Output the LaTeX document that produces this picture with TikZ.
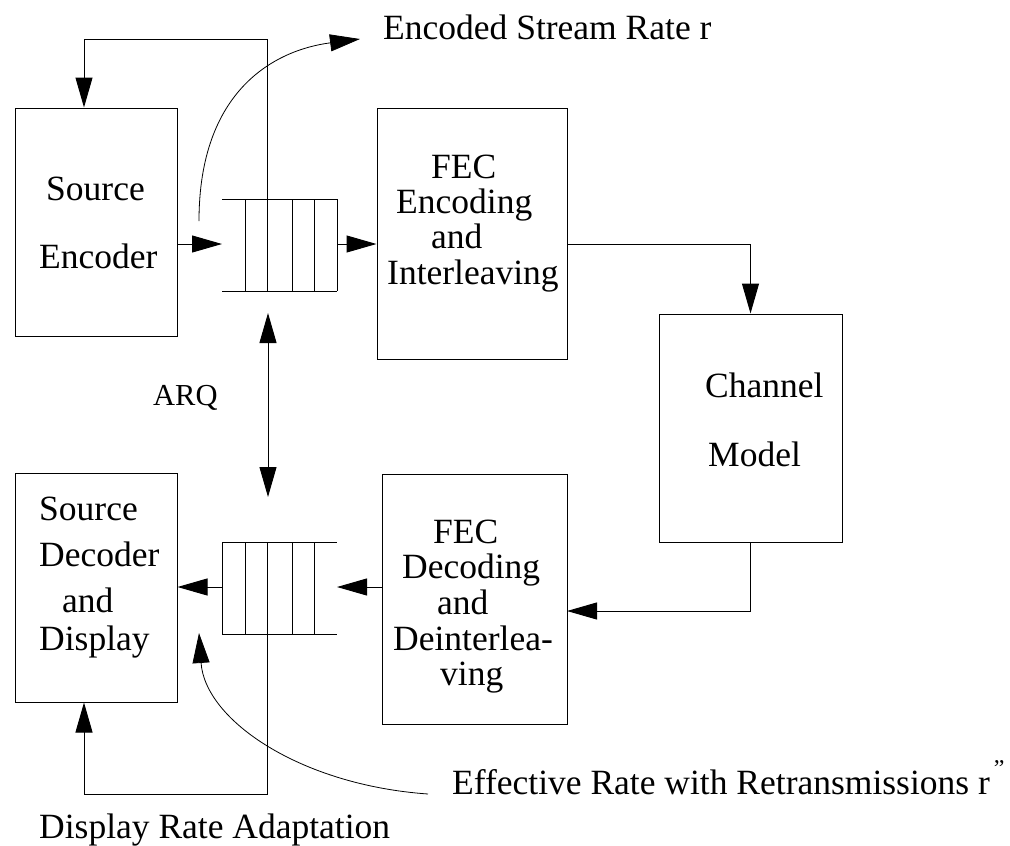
\documentclass[tikz,border=0pt]{standalone}
\usepackage{fontspec}
\setmainfont{Liberation Serif}
\usetikzlibrary{arrows.meta}
\tikzset{
  blk/.style={draw, line width=1pt, rectangle, inner sep=0pt},
  lbl/.style={anchor=base west, inner sep=0pt, font=\fontsize{35.5}{35.5}\selectfont},
  smalllbl/.style={anchor=base west, inner sep=0pt, font=\fontsize{30.5}{30.5}\selectfont},
  arr/.style={line width=1pt, -{Triangle[length=30pt,width=17pt]}},
  dblarr/.style={line width=1pt, {Triangle[length=30pt,width=17pt]}-{Triangle[length=30pt,width=17pt]}},
  thin/.style={line width=1pt},
  curvearr/.style={line width=0.8pt, -{Triangle[length=30pt,width=17pt]}}
}
\begin{document}
\begin{tikzpicture}[x=1pt,y=-1pt]
\useasboundingbox (0,0) rectangle (1010,846);

% boxes
\node[blk, minimum width=162pt, minimum height=228pt] (enc) at (96,222) {};
\node[blk, minimum width=190pt, minimum height=251pt] (fecenc) at (472,233.5) {};
\node[blk, minimum width=183pt, minimum height=228pt] (chan) at (750.5,428) {};
\node[blk, minimum width=185pt, minimum height=250pt] (fecdec) at (474.5,599) {};
\node[blk, minimum width=162pt, minimum height=229pt] (dec) at (96,587.5) {};

% box texts
\node[lbl] (t1) at (46,200) {Source};
\node[lbl] (t2) at (39,268) {Encoder};
\node[lbl] (t3) at (431,178) {FEC};
\node[lbl] (t4) at (396,213) {Encoding};
\node[lbl] (t5) at (431,248) {and};
\node[lbl] (t6) at (387,284) {Interleaving};
\node[lbl] (t7) at (705,397) {Channel};
\node[lbl] (t8) at (708,466) {Model};
\node[lbl] (t9) at (433,543) {FEC};
\node[lbl] (t10) at (402,578) {Decoding};
\node[lbl] (t11) at (437,614) {and};
\node[lbl] (t12) at (393,650) {Deinterlea-};
\node[lbl] (t13) at (440,685) {ving};
\node[lbl] (t14) at (39,520) {Source};
\node[lbl] (t15) at (39,566) {Decoder};
\node[lbl] (t16) at (62,612) {and};
\node[lbl] (t17) at (39,650) {Display};

% other labels
\node[lbl] (encrate) at (383,39) {Encoded Stream Rate r};
\node[smalllbl] (arq) at (153,405) {ARQ};
\node[lbl] (effrate) at (452,794) {Effective Rate with Retransmissions r\hspace{4pt}\raisebox{18pt}{\fontsize{24}{24}\selectfont ”}};
\node[lbl] (disprate) at (39,838) {Display Rate Adaptation};

% buffers (coordinates)
\coordinate (b1L) at (222,244);
\coordinate (b1R) at (337,244);
\coordinate (b1m) at (267,199);
\coordinate (b2L) at (222,587);
\coordinate (b2R) at (337,587);
\coordinate (b2m) at (267,634);

% top buffer: open on the left
\draw[thin] (222,199) -- (337,199);
\draw[thin] (222,291) -- (337,291);
\foreach \xx in {245,267,292,314,337} \draw[thin] (\xx,199) -- (\xx,291);
% bottom buffer: open on the right
\draw[thin] (222,542) -- (337,542);
\draw[thin] (222,634) -- (337,634);
\foreach \xx in {222,245,267,292,314} \draw[thin] (\xx,542) -- (\xx,634);

% connectors
\draw[arr] (enc.east |- b1L) -- (b1L);
\draw[arr] (b1R) -- (fecenc.west |- b1R);
\draw[arr] (fecenc.east |- b1R) -| (chan.north);
\coordinate (fdin) at (567,611);
\draw[arr] (chan.south) |- (fdin);
\draw[arr] (fecdec.west |- b2R) -- (b2R);
\draw[arr] (b2L) -- (dec.east |- b2L);

% feedback loops
\coordinate (fbA) at (84,39);
\draw[arr] (b1m) |- (fbA) -- (enc.north -| fbA);
\coordinate (fbB) at (84,794);
\draw[arr] (b2m) |- (fbB) -- (dec.south -| fbB);

% ARQ
\coordinate (arqT) at (268,313);
\coordinate (arqB) at (268,497);
\draw[dblarr] (arqT) -- (arqB);

% curved arrows
\coordinate (c1s) at (199,221);
\coordinate (c1e) at (360,39);
\draw[curvearr] (c1s) .. controls (199,90) and (275,50) .. (c1e);
\coordinate (c2s) at (428,794);
\coordinate (c2e) at (199,633);
\draw[curvearr] (c2s) .. controls (300,785) and (205,720) .. (c2e);
\end{tikzpicture}
\end{document}
